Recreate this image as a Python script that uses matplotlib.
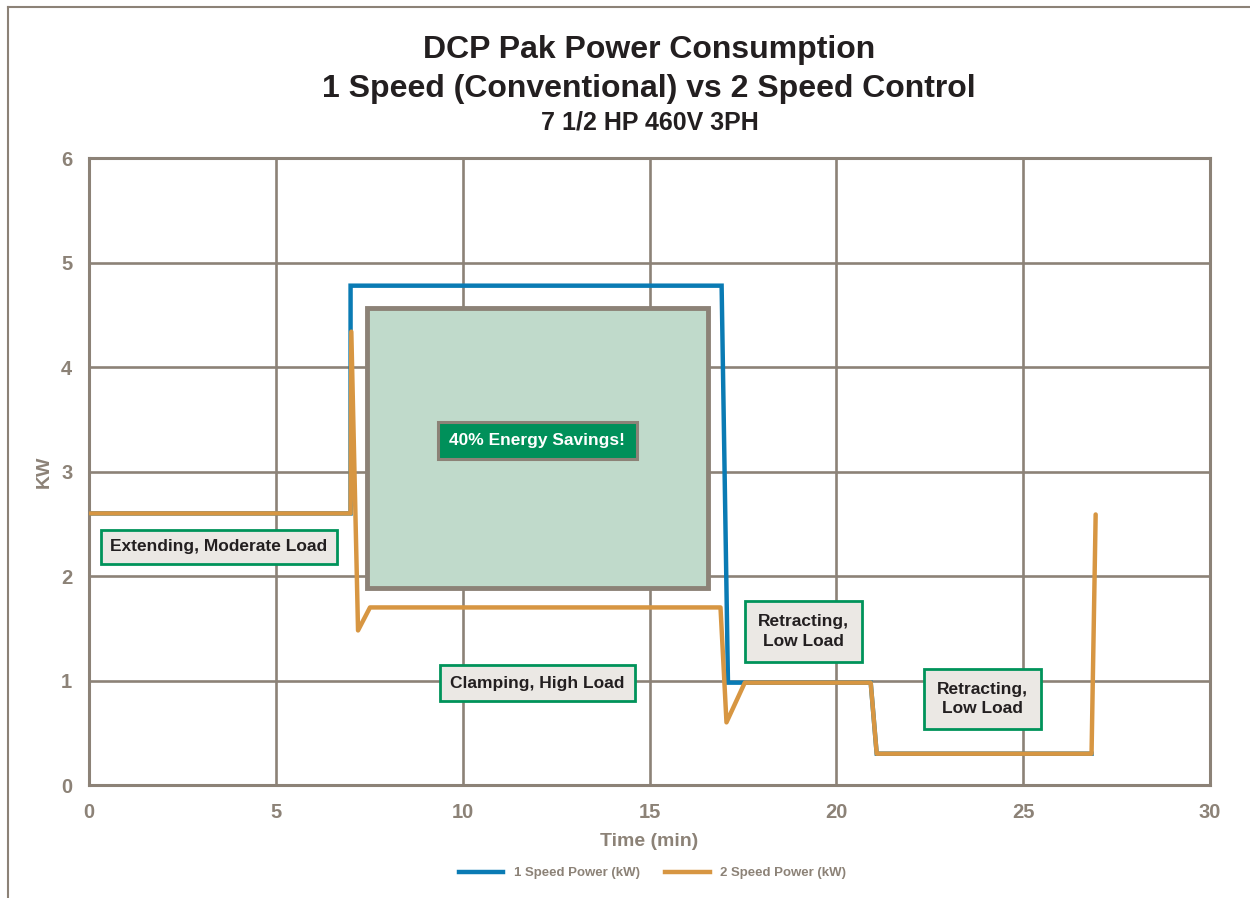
import matplotlib
matplotlib.use("Agg")
import matplotlib.pyplot as plt
from matplotlib.patches import Rectangle
from matplotlib.lines import Line2D

plt.rcParams['font.family'] = ['Liberation Sans', 'DejaVu Sans']

# ---- data ----
time_1speed = [0, 7.0, 7.0, 16.93, 17.1, 17.55, 20.92, 21.08, 26.83]
kw_1speed = [2.6, 2.6, 4.78, 4.78, 0.98, 0.98, 0.98, 0.30, 0.30]

time_2speed = [0, 7.0, 7.02, 7.2, 7.52, 16.9, 17.06, 17.55, 20.92, 21.08, 26.83, 26.94]
kw_2speed = [2.6, 2.6, 4.34, 1.48, 1.70, 1.70, 0.60, 0.98, 0.98, 0.30, 0.30, 2.59]

x_ticks = [0, 5, 10, 15, 20, 25, 30]
y_ticks = [0, 1, 2, 3, 4, 5, 6]

series_labels = ["1 Speed Power (kW)", "2 Speed Power (kW)"]
title_lines = ["DCP Pak Power Consumption",
               "1 Speed (Conventional) vs 2 Speed Control",
               "7 1/2 HP 460V 3PH"]
annotations = ["Extending, Moderate Load", "Clamping, High Load",
               "Retracting,\nLow Load", "Retracting,\nLow Load"]
savings_label = "40% Energy Savings!"

# ---- colours ----
BLUE = '#0a7bb4'
ORANGE = '#d79642'
GRID = '#8c8277'
DARK = '#231f20'
BOXFILL = '#ebe8e4'
GREEN = '#00935a'
SAVEFILL = '#c0dacb'

fig = plt.figure(figsize=(12.5, 8.98), dpi=100)
ax = fig.add_axes([0.0712, 0.1258, 0.8968, 0.698])

ax.set_xlim(0, 30)
ax.set_ylim(0, 6)
ax.set_xticks(x_ticks)
ax.set_yticks(y_ticks)
ax.grid(True, color=GRID, linewidth=1.9)
ax.set_axisbelow(True)
for s in ax.spines.values():
    s.set_color(GRID)
    s.set_linewidth(2.2)
ax.tick_params(axis='x', length=0, pad=13, labelsize=14.5, labelcolor=GRID)
ax.tick_params(axis='y', length=0, pad=12, labelsize=14.5, labelcolor=GRID)
for lab in ax.get_xticklabels() + ax.get_yticklabels():
    lab.set_fontweight('bold')

# savings rectangle
ax.add_patch(Rectangle((7.44, 1.89), 9.12, 2.68, facecolor=SAVEFILL,
                       edgecolor=GRID, linewidth=3.5, zorder=2))

ax.plot(time_1speed, kw_1speed, color=BLUE, linewidth=3.2, zorder=3,
        solid_joinstyle='miter', label=series_labels[0])
ax.plot(time_2speed, kw_2speed, color=ORANGE, linewidth=3.2, zorder=4,
        solid_joinstyle='round', solid_capstyle='round', label=series_labels[1])

# annotations
FS = 12.5
ax.text(3.48, 2.28, annotations[0], ha='center', va='center', fontsize=FS,
        fontweight='bold', color=DARK, zorder=5,
        bbox=dict(boxstyle='square,pad=0.55', facecolor=BOXFILL, edgecolor=GREEN,
                  linewidth=2))
ax.text(12.0, 0.975, annotations[1], ha='center', va='center', fontsize=FS,
        fontweight='bold', color=DARK, zorder=5,
        bbox=dict(boxstyle='square,pad=0.6', facecolor=BOXFILL, edgecolor=GREEN,
                  linewidth=2))
ax.text(19.13, 1.47, annotations[2], ha='center', va='center', fontsize=FS,
        fontweight='bold', color=DARK, linespacing=1.35, zorder=5,
        bbox=dict(boxstyle='square,pad=0.75', facecolor=BOXFILL, edgecolor=GREEN,
                  linewidth=2))
ax.text(23.92, 0.82, annotations[3], ha='center', va='center', fontsize=FS,
        fontweight='bold', color=DARK, linespacing=1.35, zorder=5,
        bbox=dict(boxstyle='square,pad=0.75', facecolor=BOXFILL, edgecolor=GREEN,
                  linewidth=2))
ax.text(12.0, 3.30, savings_label, ha='center', va='center', fontsize=FS,
        fontweight='bold', color='white', zorder=5,
        bbox=dict(boxstyle='square,pad=0.65', facecolor='#00905a', edgecolor=GRID,
                  linewidth=2.2))

# axis labels
ax.set_xlabel("Time (min)", fontsize=14, fontweight='bold', color=GRID, labelpad=8)
ax.set_ylabel("KW", fontsize=14, fontweight='bold', color=GRID, labelpad=6)

# titles
fig.text(0.519, 1 - 50 / 898, title_lines[0], ha='center', va='center',
         fontsize=23, fontweight='bold', color=DARK)
fig.text(0.519, 1 - 89 / 898, title_lines[1], ha='center', va='center',
         fontsize=23, fontweight='bold', color=DARK)
fig.text(0.52, 1 - 122 / 898, title_lines[2], ha='center', va='center',
         fontsize=18, fontweight='bold', color=DARK)

# legend
fig.legend(handles=[Line2D([], [], color=BLUE, linewidth=3.2),
                    Line2D([], [], color=ORANGE, linewidth=3.2)],
           labels=series_labels, loc='center', bbox_to_anchor=(0.522, 1 - 873 / 898),
           ncol=2, frameon=False, labelcolor=GRID, handlelength=3.4,
           columnspacing=1.9, prop={'weight': 'bold', 'size': 9.5})

# figure border lines
fig.add_artist(Line2D([8 / 1250, 8 / 1250], [0, 1 - 7 / 898], transform=fig.transFigure,
                      color=GRID, linewidth=1.5))
fig.add_artist(Line2D([8 / 1250, 1], [1 - 7 / 898, 1 - 7 / 898], transform=fig.transFigure,
                      color=GRID, linewidth=1.5))

fig.savefig("out.png", dpi=100)
